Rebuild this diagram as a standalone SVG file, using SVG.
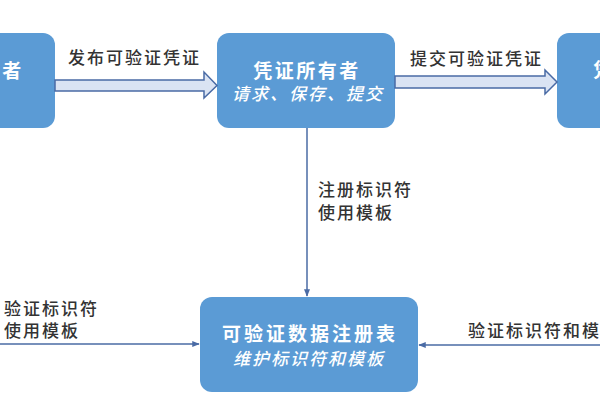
<svg xmlns="http://www.w3.org/2000/svg" width="600" height="400" viewBox="0 0 600 400">
<defs>
<style>
.node{fill:#5b9bd5;}
.t{fill:#fff;font-family:"Noto Sans CJK SC","Noto Sans",sans-serif;font-size:19px;letter-spacing:2.5px;font-weight:600;text-anchor:middle;}
.s{fill:#fff;font-family:"Noto Sans CJK SC","Noto Sans",sans-serif;font-size:17px;letter-spacing:2px;font-style:italic;font-weight:500;text-anchor:middle;}
.lbl{fill:#333;font-family:"Noto Sans CJK SC","Noto Sans",sans-serif;font-size:17px;letter-spacing:2px;font-weight:500;}
.block{fill:#dae3f3;stroke:#4a6ba5;stroke-width:1.5;stroke-linejoin:miter;}
.line{stroke:#4a6ba5;stroke-width:1.5;fill:none;marker-end:url(#ah);}
</style>
<marker id="ah" viewBox="0 0 10 10" refX="9" refY="5" markerWidth="5" markerHeight="5" orient="auto" markerUnits="strokeWidth">
<path d="M0,1 L10,5 L0,9 z" fill="#4a6ba5"/>
</marker>
</defs>
<rect width="600" height="400" fill="#fff"/>
<g id="issuer">
<rect class="node" x="-60" y="33" width="115" height="95" rx="12"/>
<text class="t" x="13" y="78">者</text>
</g>
<g id="holder">
<rect class="node" x="217" y="33" width="178" height="95" rx="12"/>
<text class="t" x="307" y="78">凭证所有者</text>
<text class="s" x="308" y="100">请求、保存、提交</text>
</g>
<g id="verifier">
<rect class="node" x="557" y="33" width="100" height="95" rx="12"/>
<text class="t" x="604" y="77">凭</text>
</g>
<g id="registry">
<rect class="node" x="200" y="297" width="218" height="95" rx="12"/>
<text class="t" x="310" y="341" style="letter-spacing:3px">可验证数据注册表</text>
<text class="s" x="309" y="365">维护标识符和模板</text>
</g>
<g id="connectors">
<polygon class="block" points="55,80 204,80 204,72 217,85.5 204,98 204,91 55,91"/>
<polygon class="block" points="395,76 545,76 545,70 557,82 545,94 545,88 395,88"/>
<line class="line" x1="307" y1="128" x2="307" y2="296"/>
<line class="line" x1="0" y1="344" x2="199" y2="344"/>
<line class="line" x1="600" y1="345" x2="419" y2="345"/>
<text class="lbl" x="68" y="64">发布可验证凭证</text>
<text class="lbl" x="410" y="65">提交可验证凭证</text>
<text class="lbl" x="318" y="196">注册标识符</text>
<text class="lbl" x="318" y="219">使用模板</text>
<text class="lbl" x="4" y="315">验证标识符</text>
<text class="lbl" x="4" y="337">使用模板</text>
<text class="lbl" x="468" y="337">验证标识符和模</text>
</g>
</svg>
